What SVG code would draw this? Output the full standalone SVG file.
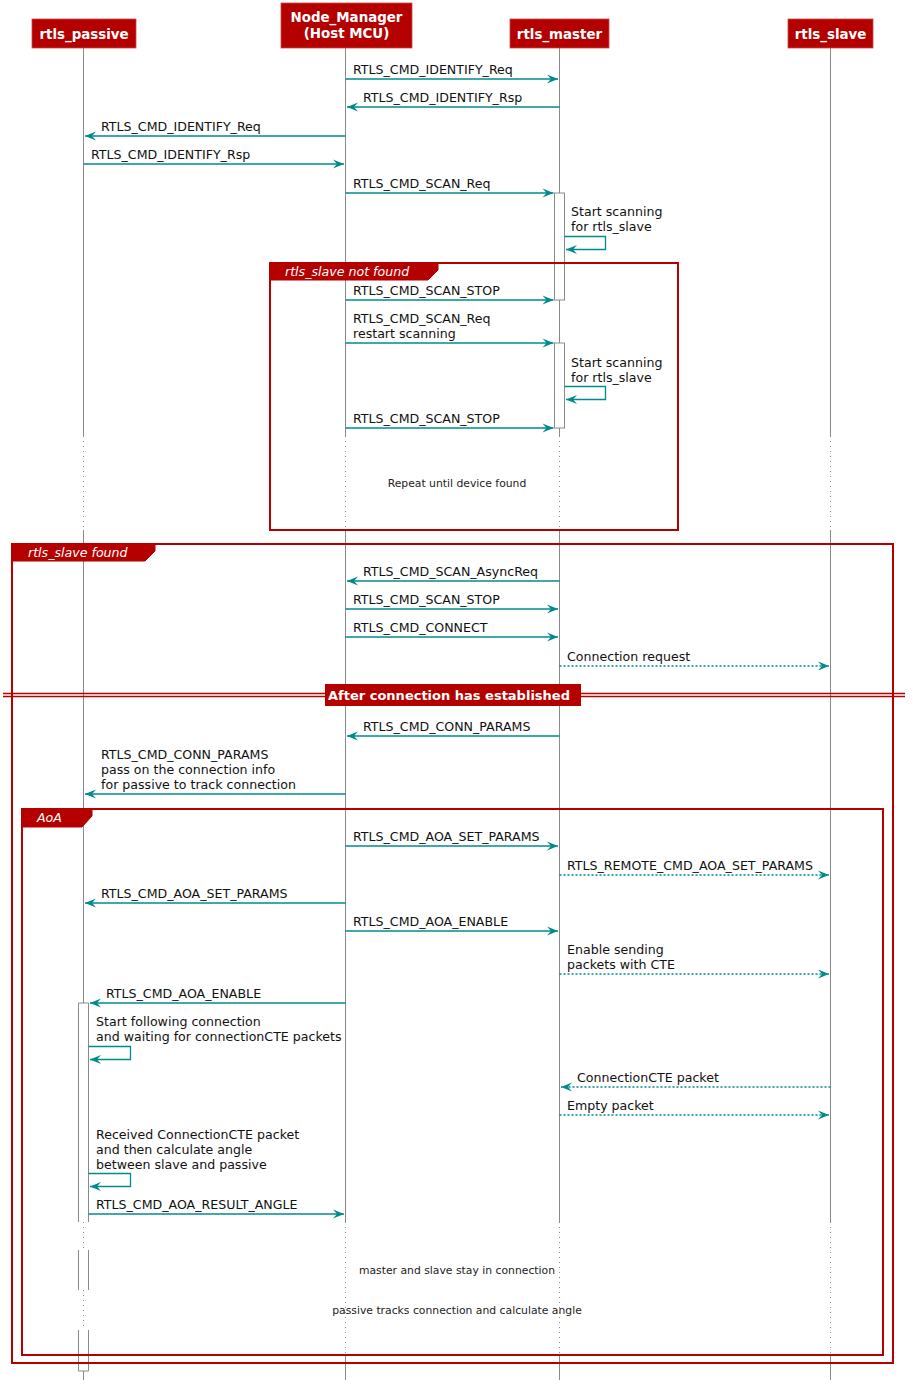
<svg xmlns="http://www.w3.org/2000/svg" width="913" height="1390" viewBox="0 0 913 1390">
<style>
text{font-family:"DejaVu Sans","Liberation Sans",sans-serif;fill:#111}
.m{font-size:12.6px}
.h{font-size:13.4px;font-weight:bold;fill:#fff;text-anchor:middle}
.dv{font-size:13px;font-weight:bold;fill:#fff;text-anchor:middle}
.gl{font-size:12.6px;font-style:italic;fill:#fff}
.d{font-size:10.8px;text-anchor:middle;fill:#222}
.hd{fill:#B50000;stroke:#C84848;stroke-width:0.8}
.ll{stroke:#8a8a8a;stroke-width:1;fill:none}
.lld{stroke:#8a8a8a;stroke-width:1;stroke-dasharray:1,4;fill:none}
.act{fill:#fff;stroke:#8a8a8a;stroke-width:1}
.a{stroke:#008B8B;stroke-width:1.3;fill:none;marker-end:url(#ah)}
.ad{stroke:#008B8B;stroke-width:1.3;fill:none;stroke-dasharray:2,2;marker-end:url(#ah)}
.s{stroke:#008B8B;stroke-width:1.3;fill:none;marker-end:url(#ah)}
.g{fill:none;stroke:#B50000;stroke-width:2}
.gt{fill:#B50000;stroke:#B50000;stroke-width:1}
</style>
<defs>
<marker id="ah" viewBox="-12 -6 13 12" refX="0" refY="0" markerWidth="13" markerHeight="12" orient="auto" markerUnits="userSpaceOnUse">
<path d="M0,0 L-11,-4.5 L-7,0 L-11,4.5 Z" fill="#008B8B"/>
</marker>
</defs>

<g id="lifelines">
<path class="ll" d="M83.5,48 V436 M83.5,530 V1003"/>
<path class="lld" d="M83.5,436 V530 M83.5,1222 V1250 M83.5,1290 V1330"/>
<path class="ll" d="M83.5,1371 V1380"/>
<path class="ll" d="M345.5,48 V436 M345.5,530 V1222 M345.5,1355 V1380"/>
<path class="lld" d="M345.5,436 V530 M345.5,1222 V1355"/>
<path class="ll" d="M559.5,48 V436 M559.5,530 V1222 M559.5,1355 V1380"/>
<path class="lld" d="M559.5,436 V530 M559.5,1222 V1355"/>
<path class="ll" d="M830.5,48 V436 M830.5,530 V1222 M830.5,1355 V1380"/>
<path class="lld" d="M830.5,436 V530 M830.5,1222 V1355"/>
</g>

<g id="activations">
<rect class="act" x="554.5" y="193" width="10" height="107"/>
<rect class="act" x="554.5" y="343" width="10" height="85"/>
<path class="act" d="M78.5,1222 V1003 H88.5 V1222"/>
<path class="ll" d="M78.5,1250 V1290 M88.5,1250 V1290"/>
<path class="act" d="M78.5,1330 V1371 H88.5 V1330"/>
</g>

<g id="node-rtls_passive">
<rect class="hd" x="32" y="19" width="104" height="29"/>
<text class="h" x="84" y="39">rtls_passive</text>
</g>
<g id="node-node_manager">
<rect class="hd" x="281" y="3" width="131" height="45"/>
<text class="h" x="346.5" y="22">Node_Manager</text>
<text class="h" x="346.5" y="38">(Host MCU)</text>
</g>
<g id="node-rtls_master">
<rect class="hd" x="510" y="19" width="99" height="29"/>
<text class="h" x="559.5" y="39">rtls_master</text>
</g>
<g id="node-rtls_slave">
<rect class="hd" x="788" y="19" width="85" height="29"/>
<text class="h" x="830.5" y="39">rtls_slave</text>
</g>

<g id="group-not-found">
<rect class="g" x="270" y="263" width="408" height="267"/>
<path class="gt" d="M270,263 H438 V270 L428,280 H270 Z"/>
<text class="gl" x="285" y="276">rtls_slave not found</text>
</g>
<g id="group-found">
<rect class="g" x="12" y="544" width="881" height="819"/>
<path class="gt" d="M12,544 H155 V551 L145,561 H12 Z"/>
<text class="gl" x="28" y="557">rtls_slave found</text>
</g>
<g id="group-aoa">
<rect class="g" x="22" y="809" width="861" height="546"/>
<path class="gt" d="M22,809 H92 V816 L82,827 H22 Z"/>
<text class="gl" x="37" y="822">AoA</text>
</g>

<g id="divider">
<line x1="3" y1="693.5" x2="905" y2="693.5" stroke="#B50000" stroke-width="1.5"/>
<line x1="3" y1="696.5" x2="905" y2="696.5" stroke="#B50000" stroke-width="1.5"/>
<rect x="325" y="684" width="256" height="22" fill="#B50000"/>
<text class="dv" x="449" y="700">After connection has established</text>
</g>

<g id="delays">
<text class="d" x="457" y="487">Repeat until device found</text>
<text class="d" x="457" y="1274">master and slave stay in connection</text>
<text class="d" x="457" y="1314">passive tracks connection and calculate angle</text>
</g>

<g id="connectors">
<line class="a" x1="345.5" y1="79" x2="558" y2="79"/>
<text class="m" x="353" y="74">RTLS_CMD_IDENTIFY_Req</text>
<line class="a" x1="559.5" y1="107" x2="347" y2="107"/>
<text class="m" x="363" y="102">RTLS_CMD_IDENTIFY_Rsp</text>
<line class="a" x1="345.5" y1="136" x2="85" y2="136"/>
<text class="m" x="101" y="131">RTLS_CMD_IDENTIFY_Req</text>
<line class="a" x1="83.5" y1="164" x2="344" y2="164"/>
<text class="m" x="91" y="159">RTLS_CMD_IDENTIFY_Rsp</text>
<line class="a" x1="345.5" y1="193" x2="553.5" y2="193"/>
<text class="m" x="353" y="188">RTLS_CMD_SCAN_Req</text>
<path class="s" d="M564.5,236.5 H605.5 V249.5 H566"/>
<text class="m" x="571" y="216">Start scanning</text>
<text class="m" x="571" y="231">for rtls_slave</text>
<line class="a" x1="345.5" y1="300" x2="553.5" y2="300"/>
<text class="m" x="353" y="295">RTLS_CMD_SCAN_STOP</text>
<line class="a" x1="345.5" y1="343" x2="553.5" y2="343"/>
<text class="m" x="353" y="323">RTLS_CMD_SCAN_Req</text>
<text class="m" x="353" y="338">restart scanning</text>
<path class="s" d="M564.5,386.5 H605.5 V399.5 H566"/>
<text class="m" x="571" y="367">Start scanning</text>
<text class="m" x="571" y="382">for rtls_slave</text>
<line class="a" x1="345.5" y1="428" x2="553.5" y2="428"/>
<text class="m" x="353" y="423">RTLS_CMD_SCAN_STOP</text>
<line class="a" x1="559.5" y1="581" x2="347" y2="581"/>
<text class="m" x="363" y="576">RTLS_CMD_SCAN_AsyncReq</text>
<line class="a" x1="345.5" y1="609" x2="558" y2="609"/>
<text class="m" x="353" y="604">RTLS_CMD_SCAN_STOP</text>
<line class="a" x1="345.5" y1="637" x2="558" y2="637"/>
<text class="m" x="353" y="632">RTLS_CMD_CONNECT</text>
<line class="ad" x1="559.5" y1="666" x2="829" y2="666"/>
<text class="m" x="567" y="661">Connection request</text>
<line class="a" x1="559.5" y1="736" x2="347" y2="736"/>
<text class="m" x="363" y="731">RTLS_CMD_CONN_PARAMS</text>
<line class="a" x1="345.5" y1="794" x2="85" y2="794"/>
<text class="m" x="101" y="759">RTLS_CMD_CONN_PARAMS</text>
<text class="m" x="101" y="774">pass on the connection info</text>
<text class="m" x="101" y="789">for passive to track connection</text>
<line class="a" x1="345.5" y1="846" x2="558" y2="846"/>
<text class="m" x="353" y="841">RTLS_CMD_AOA_SET_PARAMS</text>
<line class="ad" x1="559.5" y1="875" x2="829" y2="875"/>
<text class="m" x="567" y="870">RTLS_REMOTE_CMD_AOA_SET_PARAMS</text>
<line class="a" x1="345.5" y1="903" x2="85" y2="903"/>
<text class="m" x="101" y="898">RTLS_CMD_AOA_SET_PARAMS</text>
<line class="a" x1="345.5" y1="931" x2="558" y2="931"/>
<text class="m" x="353" y="926">RTLS_CMD_AOA_ENABLE</text>
<line class="ad" x1="559.5" y1="974" x2="829" y2="974"/>
<text class="m" x="567" y="954">Enable sending</text>
<text class="m" x="567" y="969">packets with CTE</text>
<line class="a" x1="345.5" y1="1003" x2="90" y2="1003"/>
<text class="m" x="106" y="998">RTLS_CMD_AOA_ENABLE</text>
<path class="s" d="M88.5,1046.5 H130.5 V1059.5 H90"/>
<text class="m" x="96" y="1026">Start following connection</text>
<text class="m" x="96" y="1041">and waiting for connectionCTE packets</text>
<line class="ad" x1="830.5" y1="1087" x2="561" y2="1087"/>
<text class="m" x="577" y="1082">ConnectionCTE packet</text>
<line class="ad" x1="559.5" y1="1115" x2="829" y2="1115"/>
<text class="m" x="567" y="1110">Empty packet</text>
<path class="s" d="M88.5,1173.5 H130.5 V1186.5 H90"/>
<text class="m" x="96" y="1139">Received ConnectionCTE packet</text>
<text class="m" x="96" y="1154">and then calculate angle</text>
<text class="m" x="96" y="1169">between slave and passive</text>
<line class="a" x1="88.5" y1="1214" x2="344" y2="1214"/>
<text class="m" x="96" y="1209">RTLS_CMD_AOA_RESULT_ANGLE</text>
</g>
</svg>
